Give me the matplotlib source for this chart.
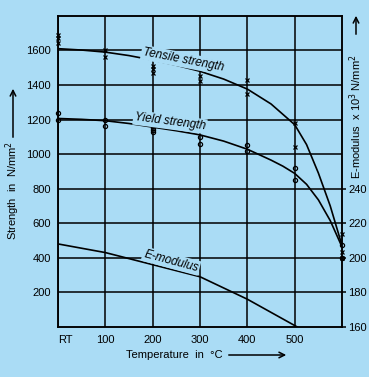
import matplotlib
matplotlib.use("Agg")
from matplotlib import pyplot as plt
from matplotlib.patches import FancyArrowPatch

# measured points (x = temperature, RT drawn at 0)
tensile_pts_x = [0, 0, 0, 100, 100, 200, 200, 200, 300, 300, 400, 400, 500, 500, 600, 600, 600]
tensile_pts_y = [1690, 1670, 1645, 1600, 1560, 1510, 1490, 1470, 1450, 1420, 1430, 1350, 1180, 1040, 537, 436, 400]
yield_pts_x = [0, 0, 100, 100, 200, 200, 200, 300, 300, 400, 400, 500, 500, 600, 600]
yield_pts_y = [1240, 1200, 1200, 1160, 1150, 1140, 1125, 1100, 1060, 1050, 1020, 920, 850, 475, 400]

# fitted curves
tensile_x = [0, 50, 100, 150, 200, 250, 300, 350, 400, 450, 500, 525, 550, 575, 600]
tensile_y = [1610, 1602, 1590, 1570, 1544, 1514, 1479, 1434, 1376, 1290, 1170, 1055, 890, 700, 470]
yield_x = [0, 50, 100, 150, 200, 250, 300, 350, 400, 450, 475, 500, 525, 550, 575, 600]
yield_y = [1206, 1201, 1193, 1177, 1156, 1135, 1111, 1075, 1028, 965, 930, 888, 825, 735, 615, 462]
emod_x = [0, 100, 200, 300, 400, 505]
emod_y = [208, 203, 196, 189, 176, 160]  # x 10^3 N/mm2

x_ticks = [0, 100, 200, 300, 400, 500]
x_labels = ["RT", "100", "200", "300", "400", "500"]
left_ticks = [200, 400, 600, 800, 1000, 1200, 1400, 1600]
right_ticks = [160, 180, 200, 220, 240]

bg = "#aadcf5"
plt.rcParams["font.family"] = ["Liberation Sans", "DejaVu Sans"]
fs = 8

fig = plt.figure(figsize=(3.69, 3.77), dpi=100, facecolor=bg)
ax = fig.add_axes([0.157, 0.133, 0.770, 0.825], facecolor=bg)
ax.set_xlim(0, 600)
ax.set_ylim(0, 1800)
ax.set_xticks(x_ticks)
ax.set_xticklabels(x_labels)
ax.set_yticks(left_ticks)
ax.grid(True, color="black", linewidth=1.1)
ax.tick_params(length=0, labelsize=fs)
ax.tick_params(axis="x", pad=6)
ax.tick_params(axis="y", pad=5)
ax.get_xticklabels()[0].set_horizontalalignment("left")
for s in ax.spines.values():
    s.set_linewidth(1.1)

ax.plot(tensile_x, tensile_y, color="black", lw=1.2, zorder=3)
ax.plot(yield_x, yield_y, color="black", lw=1.2, zorder=3)
ax.plot(tensile_pts_x, tensile_pts_y, "x", color="black", ms=3.5, mew=0.9, clip_on=False, zorder=4)
ax.plot(yield_pts_x, yield_pts_y, "o", mfc="none", mec="black", ms=3, mew=0.9, clip_on=False, zorder=4)

ax2 = ax.twinx()
ax2.set_ylim(160, 340)
ax2.set_yticks(right_ticks)
ax2.tick_params(length=3, width=1.1, labelsize=fs, pad=1.5)
ax2.plot(emod_x, emod_y, color="black", lw=1.2, zorder=3)
for s in ax2.spines.values():
    s.set_linewidth(1.1)

lab = dict(fontsize=8.5, style="italic", ha="center", va="center",
           bbox=dict(facecolor=bg, edgecolor="none", pad=1))
fig.text(183 / 369, 1 - 60 / 377, "Tensile strength", rotation=-11, **lab)
fig.text(170 / 369, 1 - 122 / 377, "Yield strength", rotation=-7.5, **lab)
fig.text(171 / 369, 1 - 261 / 377, "E-modulus", rotation=-15, **lab)

fig.text(13 / 369, 1 - 191 / 377, "Strength  in  N/mm$^2$", rotation=90, fontsize=fs, ha="center", va="center")
fig.text(356 / 369, 1 - 117 / 377, "E-modulus  x 10$^3$ N/mm$^2$", rotation=90, fontsize=fs, ha="center", va="center")
fig.text(174 / 369, 1 - 355 / 377, "Temperature  in  °C", fontsize=fs, ha="center", va="center")

arrow = dict(arrowstyle="->", color="black", lw=1.1, mutation_scale=10, transform=fig.transFigure)
fig.add_artist(FancyArrowPatch((13 / 369, 1 - 140 / 377), (13 / 369, 1 - 86 / 377), **arrow))
fig.add_artist(FancyArrowPatch((356 / 369, 1 - 37 / 377), (356 / 369, 1 - 13 / 377), **arrow))
fig.add_artist(FancyArrowPatch((226 / 369, 1 - 355 / 377), (289 / 369, 1 - 355 / 377), **arrow))

fig.savefig("out.png", dpi=100, facecolor=bg)
